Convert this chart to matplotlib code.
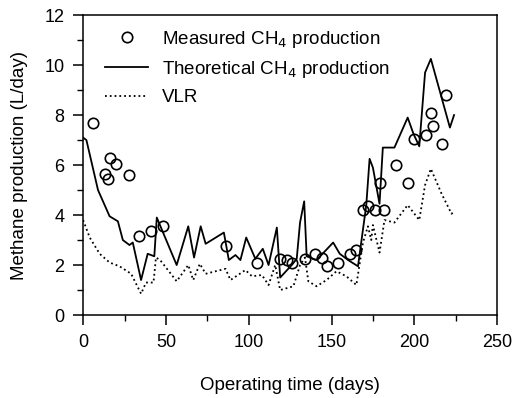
import numpy as np
import matplotlib
matplotlib.use("Agg")
import matplotlib.pyplot as plt
from matplotlib.ticker import MultipleLocator

plt.rcParams['font.family'] = ['Liberation Sans', 'DejaVu Sans']

# measured methane production (L/day)
meas_day = [6, 13, 15, 16, 20, 28, 34, 41, 48, 86, 105, 119, 123, 126,
            134, 140, 144, 147, 154, 161, 165, 169, 172, 176, 179, 182,
            189, 196, 200, 207, 210, 211, 217, 219]
meas_val = [7.7, 5.65, 5.45, 6.3, 6.05, 5.6, 3.15, 3.35, 3.55, 2.75, 2.1, 2.25, 2.2, 2.1,
            2.25, 2.45, 2.3, 1.95, 2.1, 2.45, 2.6, 4.2, 4.35, 4.2, 5.3, 4.2,
            6.0, 5.3, 7.05, 7.2, 8.1, 7.55, 6.85, 8.8]

# theoretical methane production
theo_day = [0, 2, 9, 16, 21, 24, 28, 30, 35, 39, 43, 44.5, 56.5, 63.5, 67, 71, 74,
            85, 88, 92, 95, 98.5, 104, 108.5, 112, 117, 119, 126, 129, 131, 133.5,
            135, 141, 151, 155, 160, 166, 171, 173, 175, 179, 181, 188, 196, 199.5,
            203, 206.5, 210, 221.5, 224]
theo_val = [7.1, 7.0, 5.0, 3.95, 3.75, 3.0, 2.8, 2.9, 1.4, 2.45, 2.35, 3.9, 2.0, 3.55, 2.3, 3.55, 2.85,
            3.3, 2.2, 2.4, 2.2, 3.1, 2.25, 2.65, 2.0, 3.5, 1.5, 2.0, 2.25, 3.7, 4.55,
            2.35, 2.2, 2.9, 2.45, 2.2, 1.95, 4.4, 6.25, 5.9, 4.45, 6.7, 6.7, 7.9, 7.25,
            6.75, 9.7, 10.25, 7.5, 8.0]

# volumetric loading rate (VLR)
vlr_day = [0, 4, 10, 16, 22, 29, 35, 38, 42.5, 44, 46.5, 56.5, 63.5, 66.5, 70.5, 74,
           86, 89, 98, 102, 108, 112, 116, 119, 127, 131, 134, 136, 141, 147, 153,
           159, 165, 169, 172, 174, 175, 179, 182, 188, 196, 203, 206.5, 210, 216.5,
           222.5, 224]
vlr_val = [3.8, 3.1, 2.45, 2.1, 1.95, 1.65, 0.85, 1.3, 1.3, 2.3, 2.2, 1.35, 2.0, 1.4, 2.05, 1.65,
           1.85, 1.4, 1.8, 1.55, 1.6, 1.2, 2.0, 1.0, 1.15, 2.0, 2.3, 1.35, 1.15, 1.4, 1.75,
           1.55, 1.2, 2.9, 3.55, 3.0, 3.6, 2.5, 3.8, 3.7, 4.4, 3.8, 5.2, 5.85, 4.85,
           4.05, 4.15]

fig = plt.figure(figsize=(5.13, 3.98), dpi=100)
ax = fig.add_axes([0.162, 0.2085, 0.807, 0.7535])

ax.plot(meas_day, meas_val, 'o', mfc='none', mec='black', ms=7.5, mew=1.2,
        label='Measured CH$_4$ production')
ax.plot(theo_day, theo_val, '-', color='black', lw=1.3,
        label='Theoretical CH$_4$ production')
ax.plot(vlr_day, vlr_val, ':', color='black', lw=1.3, label='VLR')

ax.set_xlim(0, 250)
ax.set_ylim(0, 12)
ax.xaxis.set_major_locator(MultipleLocator(50))
ax.xaxis.set_minor_locator(MultipleLocator(25))
ax.yaxis.set_major_locator(MultipleLocator(2))
ax.yaxis.set_minor_locator(MultipleLocator(1))
ax.tick_params(which='major', direction='out', length=7.5, width=1.1, labelsize=13, pad=6)
ax.tick_params(which='minor', direction='out', length=4.5, width=1.0)
for s in ax.spines.values():
    s.set_linewidth(1.1)

ax.set_xlabel('Operating time (days)', fontsize=13.5, labelpad=19)
ax.set_ylabel('Methane production (L/day)', fontsize=13.5, labelpad=12)

ax.legend(loc='upper left', frameon=False, fontsize=13.5, handlelength=2.3,
          handletextpad=0.75, bbox_to_anchor=(0.053, 0.955), borderaxespad=0,
          borderpad=0, labelspacing=0.5)

fig.savefig('out.png', dpi=100)
